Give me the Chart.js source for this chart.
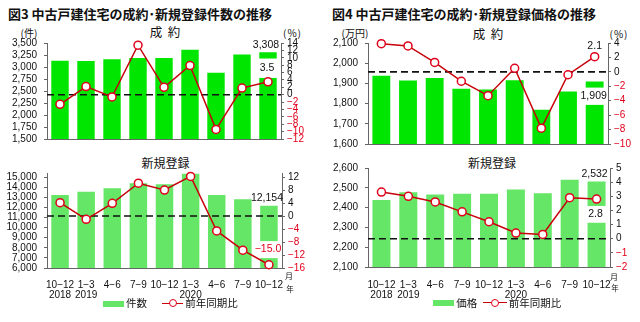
<!DOCTYPE html>
<html>
<head>
<meta charset="utf-8">
<script src="https://cdn.jsdelivr.net/npm/chart.js@4.4.1/dist/chart.umd.min.js"></script>
<style>
  body { margin: 0; background: #fff; }
  #page { position: relative; width: 640px; height: 322px; overflow: hidden;
          font-family: 'Noto Sans CJK JP', sans-serif; color: #111; }
  canvas { position: absolute; }
  .t { position: absolute; white-space: pre; transform: translate(-50%, -50%); line-height: 1; }
  .box { position: absolute; background: #66e666; }
  .rl { position: absolute; height: 1.5px; background: #c8000a; }
  .dot { position: absolute; width: 6px; height: 6px; border: 1.5px solid #e0001b; border-radius: 50%;
         background: #fff; transform: translate(-50%, -50%); }
</style>
</head>
<body>
<div id="page">
  <div class="t" style="left:140px;top:12.5px;font-size:13px;font-weight:bold">図3 中古戸建住宅の成約･新規登録件数の推移</div>
  <div class="t" style="left:464px;top:13px;font-size:13px;font-weight:bold">図4 中古戸建住宅の成約･新規登録価格の推移</div>

  <div class="t" style="left:29px;top:33px;font-size:10px">(件)</div>
  <div class="t" style="left:165px;top:32px;font-size:12.5px">成  約</div>
  <div class="t" style="left:292.5px;top:33px;font-size:10px;letter-spacing:1px">(%)</div>
  <div class="t" style="left:165.5px;top:163px;font-size:12px">新規登録</div>

  <div class="t" style="left:355px;top:33px;font-size:10px">(万円)</div>
  <div class="t" style="left:488px;top:34px;font-size:12.5px">成  約</div>
  <div class="t" style="left:619px;top:33.5px;font-size:10px;letter-spacing:1px">(%)</div>
  <div class="t" style="left:492px;top:163.3px;font-size:12px">新規登録</div>

  <canvas id="cTL" width="320" height="122" style="left:0;top:30px"></canvas>
  <canvas id="cBL" width="320" height="140" style="left:0;top:160px"></canvas>
  <canvas id="cTR" width="320" height="127" style="left:320px;top:30px"></canvas>
  <canvas id="cBR" width="320" height="145" style="left:320px;top:155px"></canvas>

  <div class="t" style="left:289px;top:276.3px;font-size:8px">月</div>
  <div class="t" style="left:290px;top:289px;font-size:7.5px">年</div>
  <div class="t" style="left:614px;top:276.7px;font-size:8px">月</div>
  <div class="t" style="left:615px;top:287.5px;font-size:7.5px">年</div>

  <!-- legends -->
  <div class="box" style="left:103px;top:300.5px;width:21px;height:6px"></div>
  <div class="t" style="left:136.5px;top:303.3px;font-size:10.5px">件数</div>
  <div class="rl" style="left:162px;top:302.6px;width:21px"></div>
  <div class="dot" style="left:172.5px;top:303.3px"></div>
  <div class="t" style="left:211.5px;top:303.3px;font-size:10.5px">前年同期比</div>

  <div class="box" style="left:433px;top:299.5px;width:21px;height:6px"></div>
  <div class="t" style="left:466.7px;top:302.5px;font-size:10.5px">価格</div>
  <div class="rl" style="left:483px;top:301.8px;width:24px"></div>
  <div class="dot" style="left:494.7px;top:302.5px"></div>
  <div class="t" style="left:535px;top:302.5px;font-size:10.5px">前年同期比</div>
</div>

<script>
// quarters (月 / 年)
const quarters = [['10−12', '2018'], ['1−3', '2019'], '4−6', '7−9', '10−12', ['1−3', '2020'], '4−6', '7−9', '10−12'];

// 図3 件数
const contractCount = [3130, 3125, 3160, 3190, 3190, 3360, 2880, 3260, 3308];
const contractCountYoY = [-2.6, 2.2, -0.6, 13.4, 2.0, 7.9, -9.4, 1.8, 3.5];
const newListCount = [13230, 13550, 13900, 14390, 14290, 15320, 13230, 12810, 12154];
const newListCountYoY = [4.1, -1.0, 3.9, 10.1, 8.0, 12.2, -4.6, -10.5, -15.0];

// 図4 価格 (万円)
const contractPrice = [1938, 1914, 1927, 1873, 1870, 1915, 1770, 1860, 1909];
const contractPriceYoY = [3.9, 3.6, 1.3, -1.3, -3.3, 0.5, -7.8, -0.4, 2.1];
const newListPrice = [2439, 2478, 2466, 2470, 2470, 2491, 2473, 2541, 2532];
const newListPriceYoY = [3.3, 3.0, 2.6, 1.9, 1.2, 0.4, 0.3, 2.9, 2.8];

// tick labels
const contractCountTicks = [1500, 1750, 2000, 2250, 2500, 2750, 3000, 3250, 3500];
const contractCountPctTicks = [-12, -10, -8, -6, -4, -2, 0, 2, 4, 6, 8, 10, 12, 14];
const newListCountTicks = [6000, 7000, 8000, 9000, 10000, 11000, 12000, 13000, 14000, 15000];
const newListCountPctTicks = [-16, -12, -8, -4, 0, 4, 8, 12];
const contractPriceTicks = [1600, 1700, 1800, 1900, 2000, 2100];
const contractPricePctTicks = [-10, -8, -6, -4, -2, 0, 2, 4];
const newListPriceTicks = [2100, 2200, 2300, 2400, 2500, 2600];
const newListPricePctTicks = [-2, -1, 0, 1, 2, 3, 4, 5];

const NUM_FONT = "'Liberation Sans Narrow', 'Liberation Sans', Arial, sans-serif";
const RED = '#e0001b';
const LINE_RED = '#c8000a';
const AXIS = '#666';

const fmtCount = v => v.toLocaleString('en-US');
const fmtPct = v => (v < 0 ? '−' : '') + Math.abs(v);
const fmtPct1 = v => (v < 0 ? '−' : '') + Math.abs(v).toFixed(1);

// zero line, white break in the last bar, value labels
const panelExtras = {
  id: 'panelExtras',
  afterDatasetDraw(chart, args, opts) {
    if (args.meta.type !== 'bar') return;
    const ctx = chart.ctx, area = chart.chartArea;
    const y0 = chart.scales.y2.getPixelForValue(0);
    ctx.save();
    ctx.strokeStyle = '#111';
    ctx.lineWidth = 1.6;
    ctx.setLineDash([7, 4]);
    ctx.beginPath();
    ctx.moveTo(area.left, y0);
    ctx.lineTo(area.right, y0);
    ctx.stroke();
    const bar = args.meta.data[args.meta.data.length - 1];
    ctx.fillStyle = '#fff';
    ctx.fillRect(bar.x - bar.width / 2 - 1, bar.y + opts.gap[0], bar.width + 2, opts.gap[1] - opts.gap[0]);
    ctx.restore();
  },
  afterDatasetsDraw(chart, args, opts) {
    const ctx = chart.ctx;
    const bar = chart.getDatasetMeta(1).data.at(-1);
    const pt = chart.getDatasetMeta(0).data.at(-1);
    ctx.save();
    ctx.font = '10.5px ' + NUM_FONT;
    ctx.textAlign = 'center';
    ctx.textBaseline = 'middle';
    ctx.fillStyle = '#111';
    if (opts.topRef === 'line') ctx.fillText(opts.topText, pt.x, pt.y - 11);
    else ctx.fillText(opts.topText, bar.x - 2, bar.y - 7.5);
    ctx.fillStyle = opts.gapColor;
    ctx.fillText(opts.gapText, bar.x - 1, bar.y + (opts.gap[0] + opts.gap[1]) / 2);
    ctx.restore();
  }
};

function makeChart(id, c) {
  return new Chart(document.getElementById(id), {
    data: {
      labels: quarters,
      datasets: [
        {
          type: 'line', data: c.line, yAxisID: 'y2', order: 0, clip: false,
          borderColor: LINE_RED, borderWidth: 1.5, tension: 0,
          pointRadius: 4, pointBorderWidth: 1.5, pointBackgroundColor: '#fff', pointBorderColor: RED
        },
        {
          type: 'bar', data: c.bars, yAxisID: 'y', order: 1,
          backgroundColor: c.barColor, barPercentage: 0.67, categoryPercentage: 1
        }
      ]
    },
    options: {
      responsive: false,
      animation: false,
      devicePixelRatio: 1,
      layout: { padding: { top: c.padTop, left: 0, right: 0, bottom: 0 } },
      plugins: {
        legend: { display: false },
        tooltip: { enabled: false },
        panelExtras: c.extras
      },
      scales: {
        x: {
          grid: { display: false },
          border: { display: true, color: AXIS },
          ticks: {
            display: c.showX, color: '#111', padding: c.xPad, maxRotation: 0, autoSkip: false,
            font: { family: NUM_FONT, size: 10, lineHeight: 1.0 }
          },
          afterFit: s => { s.height = c.xHeight; }
        },
        y: {
          position: 'left', min: c.yMin, max: c.yMax,
          afterBuildTicks: s => { s.ticks = c.yTicks.map(v => ({ value: v })); },
          afterFit: s => { s.width = c.yWidth; },
          grid: { drawOnChartArea: false, tickLength: 3, color: AXIS },
          border: { color: AXIS },
          ticks: {
            callback: v => fmtCount(v), color: '#111', padding: 7, autoSkip: false,
            font: { family: NUM_FONT, size: 10 }
          }
        },
        y2: {
          position: 'right', min: c.y2Min, max: c.y2Max,
          afterBuildTicks: s => { s.ticks = c.y2Ticks.map(v => ({ value: v })); },
          afterFit: s => { s.width = c.y2Width; },
          grid: { drawOnChartArea: false, tickLength: 3, color: AXIS },
          border: { color: AXIS },
          ticks: {
            callback: v => fmtPct(v), padding: 3, autoSkip: false,
            color: ctx => (ctx.tick && ctx.tick.value < 0) ? RED : '#111',
            font: { family: NUM_FONT, size: 10 }
          }
        }
      }
    },
    plugins: [panelExtras]
  });
}

makeChart('cTL', {
  bars: contractCount, line: contractCountYoY, barColor: '#00e600',
  yMin: 1500, yMax: 3500, yTicks: contractCountTicks,
  y2Min: -12, y2Max: 14, y2Ticks: contractCountPctTicks,
  padTop: 13, yWidth: 47, y2Width: 39, showX: false, xHeight: 8, xPad: 0,
  extras: {
    gap: [6.3, 25.7],
    topText: fmtCount(contractCount.at(-1)), topRef: 'bar',
    gapText: fmtPct1(contractCountYoY.at(-1)), gapColor: '#111'
  }
});

makeChart('cBL', {
  bars: newListCount, line: newListCountYoY, barColor: '#66e666',
  yMin: 6000, yMax: 15400, yTicks: newListCountTicks,
  y2Min: -16, y2Max: -16 + 9400 * 28 / 9000, y2Ticks: newListCountPctTicks,
  padTop: 10, yWidth: 47, y2Width: 38, showX: true, xHeight: 32, xPad: 4,
  extras: {
    gap: [35.3, 52.3],
    topText: fmtCount(newListCount.at(-1)), topRef: 'bar',
    gapText: fmtPct1(newListCountYoY.at(-1)), gapColor: RED
  }
});

makeChart('cTR', {
  bars: contractPrice, line: contractPriceYoY, barColor: '#00e600',
  yMin: 1600, yMax: 2100, yTicks: contractPriceTicks,
  y2Min: -10, y2Max: 4, y2Ticks: contractPricePctTicks,
  padTop: 13, yWidth: 48, y2Width: 32, showX: false, xHeight: 8, xPad: 0,
  extras: {
    gap: [6, 23.3],
    topText: fmtPct1(contractPriceYoY.at(-1)), topRef: 'line',
    gapText: fmtCount(contractPrice.at(-1)), gapColor: '#111'
  }
});

makeChart('cBR', {
  bars: newListPrice, line: newListPriceYoY, barColor: '#66e666',
  yMin: 2100, yMax: 2600, yTicks: newListPriceTicks,
  y2Min: -2, y2Max: 5, y2Ticks: newListPricePctTicks,
  padTop: 10, yWidth: 48, y2Width: 30, showX: true, xHeight: 33, xPad: 5,
  extras: {
    gap: [24.6, 41.3],
    topText: fmtCount(newListPrice.at(-1)), topRef: 'bar',
    gapText: fmtPct1(newListPriceYoY.at(-1)), gapColor: '#111'
  }
});
</script>
</body>
</html>
